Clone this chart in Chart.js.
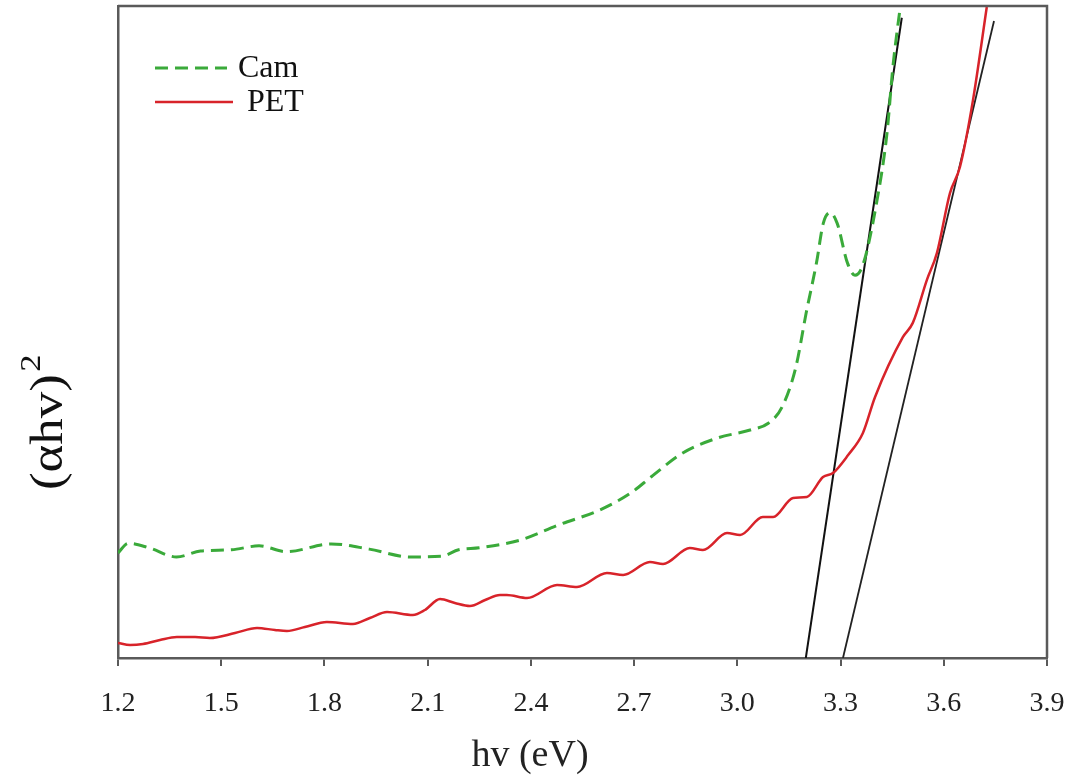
<!DOCTYPE html>
<html><head><meta charset="utf-8">
<script src="https://cdn.jsdelivr.net/npm/chart.js@4/dist/chart.umd.min.js"></script>
<style>html,body{margin:0;padding:0;background:#fff}#wrap{width:1072px;height:783px}</style>
</head><body><div id="wrap"><canvas id="c" width="1072" height="783"></canvas></div>
<script>
// ---- data ----
const seriesNames = ['Cam', 'PET'];
const camX = [1.20,1.23,1.29,1.37,1.44,1.53,1.61,1.69,1.82,1.93,2.05,2.14,2.19,2.25,2.37,2.48,2.60,2.69,2.75,2.84,2.94,3.04,3.09,3.13,3.17,3.20,3.23,3.25,3.27,3.29,3.32,3.342,3.365,3.406,3.435,3.452,3.476];
const camY = [16.1,17.6,16.9,15.5,16.4,16.6,17.2,16.3,17.5,16.7,15.5,15.6,16.6,16.9,18.1,20.4,22.7,25.3,27.8,31.4,33.7,35.0,36.0,38.5,44.6,52.9,60.6,66.7,68.3,66.7,60.6,58.7,60.3,70.2,80.5,90.6,100.9];
const petX = [1.200,1.235,1.273,1.322,1.371,1.424,1.467,1.540,1.604,1.656,1.691,1.743,1.807,1.883,1.932,1.982,2.057,2.092,2.136,2.179,2.223,2.267,2.310,2.330,2.389,2.476,2.534,2.621,2.668,2.746,2.784,2.862,2.900,2.970,3.008,3.074,3.104,3.162,3.202,3.249,3.278,3.322,3.365,3.400,3.481,3.510,3.551,3.580,3.618,3.647,3.685,3.725];
const petY = [2.30,1.99,2.15,2.76,3.22,3.22,3.07,3.83,4.60,4.29,4.14,4.75,5.52,5.21,6.13,7.06,6.60,7.36,9.05,8.44,7.98,8.90,9.66,9.66,9.20,11.20,10.89,13.04,12.73,14.72,14.42,16.87,16.56,19.17,18.87,21.63,21.63,24.54,24.69,27.76,28.37,31.13,34.51,40.0,49.2,51.4,58.0,62.1,71.3,75.3,85.6,99.85];
const fit1X = [3.199, 3.478];
const fit1Y = [0, 98.2];
const fit2X = [3.307, 3.746];
const fit2Y = [0, 97.7];
const xTicks = [1.2, 1.5, 1.8, 2.1, 2.4, 2.7, 3.0, 3.3, 3.6, 3.9];
const xTitle = 'hv (eV)';
const yTitleMain = '(\u03b1hv)';
const yTitleSup = '2';

const pts = (xs, ys) => xs.map((x, i) => ({x, y: ys[i]}));
const SERIF = '"Liberation Serif","Times New Roman",serif';
const FRAME = '#5a5a5a';

const framePlugin = {
  id: 'frameLegend',
  afterDraw(chart) {
    const {ctx, chartArea: a} = chart;
    ctx.save();
    // top and right frame lines
    ctx.strokeStyle = FRAME;
    ctx.lineWidth = 2.5;
    ctx.beginPath();
    ctx.moveTo(a.left, a.top);
    ctx.lineTo(a.right, a.top);
    ctx.lineTo(a.right, a.bottom);
    ctx.stroke();
    // legend
    const ds = chart.data.datasets;
    const rows = [{d: ds[0], y: 68, x1: 155, x2: 227, tx: 238}, {d: ds[1], y: 102, x1: 155, x2: 233, tx: 247}];
    rows.forEach(r => {
      ctx.strokeStyle = r.d.borderColor;
      ctx.lineWidth = r.d.borderWidth;
      ctx.setLineDash(r.d.borderDash || []);
      ctx.beginPath();
      ctx.moveTo(r.x1, r.y); ctx.lineTo(r.x2, r.y); ctx.stroke();
      ctx.setLineDash([]);
      ctx.fillStyle = '#111';
      ctx.font = '32px ' + SERIF;
      ctx.textBaseline = 'middle';
      ctx.textAlign = 'left';
      ctx.fillText(r.d.label, r.tx, r.y + 1);
    });
    // x title (off-centre in the reference)
    ctx.fillStyle = '#222';
    ctx.font = '38px ' + SERIF;
    ctx.textAlign = 'center';
    ctx.textBaseline = 'middle';
    ctx.fillText(xTitle, 530, 756);
    // y title
    ctx.translate(62, 490);
    ctx.rotate(-Math.PI / 2);
    ctx.scale(1.15, 1);
    ctx.fillStyle = '#111';
    ctx.textAlign = 'left';
    ctx.textBaseline = 'alphabetic';
    ctx.font = '46px ' + SERIF;
    ctx.fillText(yTitleMain, 0, 0);
    const w = ctx.measureText(yTitleMain).width;
    ctx.font = '30px ' + SERIF;
    ctx.fillText(yTitleSup, w + 2, -22);
    ctx.restore();
  }
};

new Chart(document.getElementById('c'), {
  type: 'scatter',
  data: {
    datasets: [
      {label: seriesNames[0], data: pts(camX, camY), showLine: true, borderColor: '#3aaa3a', borderWidth: 3, borderDash: [13, 7], pointRadius: 0, cubicInterpolationMode: 'monotone'},
      {label: seriesNames[1], data: pts(petX, petY), showLine: true, borderColor: '#d8232a', borderWidth: 2.5, pointRadius: 0, cubicInterpolationMode: 'monotone'},
      {label: 'fit1', data: pts(fit1X, fit1Y), showLine: true, borderColor: '#111', borderWidth: 2, pointRadius: 0},
      {label: 'fit2', data: pts(fit2X, fit2Y), showLine: true, borderColor: '#222', borderWidth: 1.8, pointRadius: 0}
    ]
  },
  options: {
    responsive: false,
    animation: false,
    devicePixelRatio: 1,
    layout: {padding: {top: 6, right: 25, left: 0, bottom: 0}},
    plugins: {legend: {display: false}, tooltip: {enabled: false}},
    scales: {
      x: {
        type: 'linear', min: 1.2, max: 3.9,
        afterBuildTicks: s => { s.ticks = xTicks.map(v => ({value: v})); },
        afterFit: s => { s.height = 125; s.paddingLeft = 0; s.paddingRight = 0; },
        ticks: {callback: v => Number(v).toFixed(1), autoSkip: false, maxRotation: 0, color: '#222', font: {family: SERIF, size: 28}, padding: 21},
        grid: {display: true, drawOnChartArea: false, drawTicks: true, tickLength: 8, color: FRAME, lineWidth: 2},
        border: {display: true, color: FRAME, width: 2.5},
        title: {display: false}
      },
      y: {
        min: 0, max: 100,
        afterFit: s => { s.width = 118; },
        ticks: {display: false},
        grid: {display: false},
        border: {display: true, color: FRAME, width: 2.5}
      }
    }
  },
  plugins: [framePlugin]
});
</script></body></html>
